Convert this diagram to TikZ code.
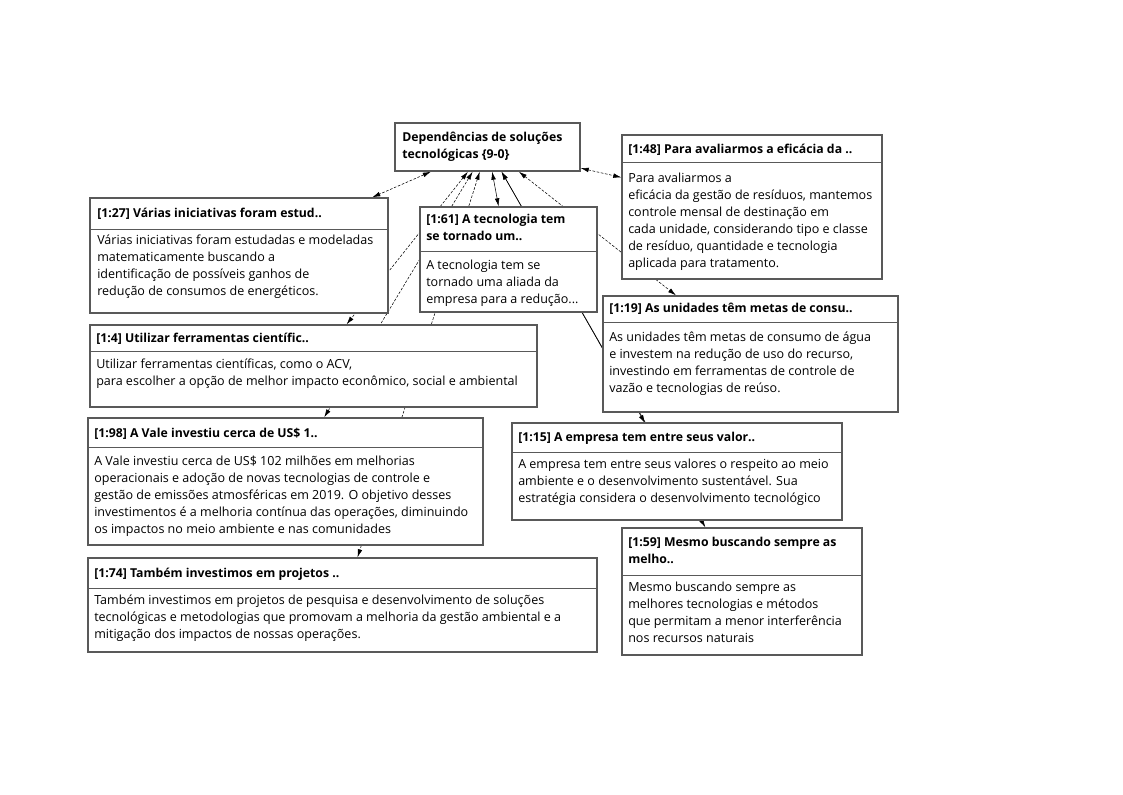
\documentclass[tikz,border=0pt]{standalone}
\usepackage{fontspec}
\setsansfont{Open Sans}
\usetikzlibrary{arrows.meta,fit,backgrounds}

\begin{document}
\begin{tikzpicture}[x=0.75pt, y=-0.75pt, >={Latex[length=6pt,width=3.5pt]},
  font=\sffamily\fontsize{9.4}{12.75}\selectfont,
  card/.style={draw=black!65, line width=1.1pt, fill=white, inner sep=0pt},
  ttl/.style={anchor=west, inner sep=0pt, font=\sffamily\bfseries\fontsize{9.2}{12.75}\selectfont},
  ttlbox/.style={anchor=north west, inner sep=0pt, align=left, font=\sffamily\bfseries\fontsize{9.2}{12.75}\selectfont},
  txt/.style={anchor=north west, inner sep=0pt, align=left},
  rule/.style={draw=black!65, line width=0.6pt},
  link/.style={<->, thin, dash pattern=on 2pt off 1.2pt},
  solidlink/.style={<->, thin}]

\useasboundingbox (0,0) rectangle (1123,794);

%--------------------
% Central code
%--------------------
\node[card, fit={(395,123) (580,171)}] (dep) {};
\node[ttlbox] at (402,132) {Dependências de soluções\\tecnológicas \{9-0\}};

%--------------------
% Quotations, top row
%--------------------
\node[card, fit={(622,135) (882,279)}] (c48) {};
\node[ttl] at (628,150) {[1:48] Para avaliarmos a eficácia da ..};
\draw[rule] (622,162) -- (882,162);
\node[txt] at (628,173) {Para avaliarmos a\\
  eficácia da gestão de resíduos, mantemos\\
  controle mensal de destinação em\\
  cada unidade, considerando tipo e classe\\
  de resíduo, quantidade e tecnologia\\
  aplicada para tratamento.};

\node[card, fit={(90,198) (388,313)}] (c27) {};
\node[ttl] at (97,214) {[1:27] Várias iniciativas foram estud..};
\draw[rule] (90,229) -- (388,229);
\node[txt] at (97,235) {Várias iniciativas foram estudadas e modeladas\\
  matematicamente buscando a\\
  identificação de possíveis ganhos de\\
  redução de consumos de energéticos.};

\node[card, fit={(420,207) (597,312)}] (c61) {};
\node[ttlbox] at (426,214) {[1:61] A tecnologia tem\\se tornado um..};
\draw[rule] (420,251) -- (597,251);
\node[txt] at (426,260) {A tecnologia tem se\\
  tornado uma aliada da\\
  empresa para a redução...};

\node[card, fit={(603,296) (898,412)}] (c19) {};
\node[ttl] at (609,309) {[1:19] As unidades têm metas de consu..};
\draw[rule] (603,322) -- (898,322);
\node[txt] at (609,332) {As unidades têm metas de consumo de água\\
  e investem na redução de uso do recurso,\\
  investindo em ferramentas de controle de\\
  vazão e tecnologias de reúso.};

%--------------------
% Quotations, lower rows
%--------------------
\node[card, fit={(90,325) (537,407)}] (c4) {};
\node[ttl] at (96,339) {[1:4] Utilizar ferramentas científic..};
\draw[rule] (90,351) -- (537,351);
\node[txt] at (96,359) {Utilizar ferramentas científicas, como o ACV,\\
  para escolher a opção de melhor impacto econômico, social e ambiental};

\node[card, fit={(88,418) (483,545)}] (c98) {};
\node[ttl] at (94,434) {[1:98] A Vale investiu cerca de US\$ 1..};
\draw[rule] (88,447) -- (483,447);
\node[txt] at (94,456) {A Vale investiu cerca de US\$ 102 milhões em melhorias\\
  operacionais e adoção de novas tecnologias de controle e\\
  gestão de emissões atmosféricas em 2019. O objetivo desses\\
  investimentos é a melhoria contínua das operações, diminuindo\\
  os impactos no meio ambiente e nas comunidades};

\node[card, fit={(512,423) (842,520)}] (c15) {};
\node[ttl] at (518,438) {[1:15] A empresa tem entre seus valor..};
\draw[rule] (512,452) -- (842,452);
\node[txt] at (518,459) {A empresa tem entre seus valores o respeito ao meio\\
  ambiente e o desenvolvimento sustentável. Sua\\
  estratégia considera o desenvolvimento tecnológico};

\node[card, fit={(622,528) (862,655)}] (c59) {};
\node[ttlbox] at (628,537) {[1:59] Mesmo buscando sempre as\\melho..};
\draw[rule] (622,575) -- (862,575);
\node[txt] at (628,582) {Mesmo buscando sempre as\\
  melhores tecnologias e métodos\\
  que permitam a menor interferência\\
  nos recursos naturais};

\node[card, fit={(88,558) (597,652)}] (c74) {};
\node[ttl] at (94,574) {[1:74] Também investimos em projetos ..};
\draw[rule] (88,588) -- (597,588);
\node[txt] at (94,595) {Também investimos em projetos de pesquisa e desenvolvimento de soluções\\
  tecnológicas e metodologias que promovam a melhoria da gestão ambiental e a\\
  mitigação dos impactos de nossas operações.};

% entry point on [1:15], on the same line as the [1:59] link
\coordinate (c15in) at (645,423);

%--------------------
% Links (behind the cards)
%--------------------
\begin{scope}[on background layer]
\draw[link] (dep) -- (c27);
\draw[link] (dep) -- (c48);
\draw[link] (dep) -- (c4);
\draw[link] (dep) -- (c98);
\draw[link] (dep) -- (c74);
\draw[link] (dep) -- (c19);
\draw[solidlink] (dep) -- (c61);
\draw[solidlink] (dep) -- (c15in);
\draw[solidlink] (dep) -- (c59);
\end{scope}

\end{tikzpicture}
\end{document}
